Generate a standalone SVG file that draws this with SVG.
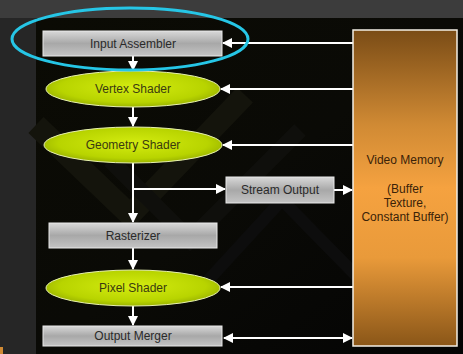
<svg xmlns="http://www.w3.org/2000/svg" width="463" height="354" viewBox="0 0 463 354">
  <defs>
    <linearGradient id="gray" x1="0" y1="0" x2="0" y2="1">
      <stop offset="0" stop-color="#d8d8d8"/>
      <stop offset="0.5" stop-color="#a8a8a8"/>
      <stop offset="1" stop-color="#c4c4c4"/>
    </linearGradient>
    <radialGradient id="lime" cx="0.5" cy="0.45" r="0.6">
      <stop offset="0" stop-color="#d4ec10"/>
      <stop offset="0.7" stop-color="#b8d400"/>
      <stop offset="1" stop-color="#90a800"/>
    </radialGradient>
    <linearGradient id="orange" x1="0" y1="0" x2="0" y2="1">
      <stop offset="0" stop-color="#7a4c16"/>
      <stop offset="0.3" stop-color="#d08a34"/>
      <stop offset="0.5" stop-color="#f5a240"/>
      <stop offset="0.72" stop-color="#e99a3a"/>
      <stop offset="1" stop-color="#8a5618"/>
    </linearGradient>
    <linearGradient id="bg" x1="0" y1="0" x2="1" y2="1">
      <stop offset="0" stop-color="#0b0b04"/>
      <stop offset="0.5" stop-color="#0a0a06"/>
      <stop offset="1" stop-color="#040404"/>
    </linearGradient>
    <marker id="head" viewBox="0 0 10 10" refX="9" refY="5" markerWidth="5" markerHeight="5" orient="auto-start-reverse">
      <path d="M0,0 L10,5 L0,10 z" fill="#ffffff"/>
    </marker>
  </defs>
  <style>
    .box { fill: url(#gray); stroke: #e8e8e8; stroke-width: 1; }
    .shader { fill: url(#lime); stroke: #e6efb0; stroke-width: 1; }
    .label { font-family: "Liberation Sans", Arial, sans-serif; font-size: 12px; text-anchor: middle; fill: #2a2a2a; }
    .slabel { font-family: "Liberation Sans", Arial, sans-serif; font-size: 12px; text-anchor: middle; fill: #3a3a10; }
    .vm { font-family: "Liberation Sans", Arial, sans-serif; font-size: 12px; text-anchor: middle; fill: #3a2208; }
    .link { stroke: #ffffff; stroke-width: 2; fill: none; marker-end: url(#head); }
  </style>

  <!-- slide background -->
  <rect x="0" y="0" width="463" height="354" fill="#262626"/>
  <rect x="0" y="0" width="463" height="18" fill="#3c3c3c"/>
  <rect x="36" y="18" width="427" height="336" fill="url(#bg)"/>
  <!-- faint chevron artwork behind the pipeline -->
  <g fill="none" stroke-linejoin="miter">
    <path d="M36,125 L130,215 L245,95" stroke="#14140c" stroke-width="22"/>
    <path d="M110,160 L190,240 L300,130" stroke="#0f0f0c" stroke-width="16"/>
    <path d="M190,300 L282,200 L380,300" stroke="#0d0d0d" stroke-width="12"/>
  </g>
  <rect x="0" y="347" width="3" height="7" fill="#d08a34"/>

  <!-- connectors -->
  <g id="connectors">
    <line class="link" x1="133" y1="56" x2="133" y2="70"/>
    <line class="link" x1="133" y1="107" x2="133" y2="126"/>
    <line class="link" x1="133" y1="163" x2="133" y2="222"/>
    <line class="link" x1="133" y1="189" x2="225" y2="189"/>
    <line class="link" x1="133" y1="248" x2="133" y2="269"/>
    <line class="link" x1="133" y1="306" x2="133" y2="325"/>
    <line class="link" x1="353" y1="43" x2="223" y2="43"/>
    <line class="link" x1="353" y1="89" x2="221" y2="89"/>
    <line class="link" x1="353" y1="145" x2="223" y2="145"/>
    <line class="link" x1="353" y1="287" x2="221" y2="287"/>
    <line class="link" x1="334" y1="190" x2="352" y2="190"/>
    <line class="link" x1="224" y1="338" x2="352" y2="338" marker-start="url(#head)"/>
  </g>

  <g id="input-assembler">
    <rect class="box" x="43" y="31" width="179" height="25"/>
    <text class="label" x="133" y="47.5">Input Assembler</text>
  </g>
  <g id="vertex-shader">
    <ellipse class="shader" cx="133" cy="89" rx="87" ry="18"/>
    <text class="slabel" x="133" y="93">Vertex Shader</text>
  </g>
  <g id="geometry-shader">
    <ellipse class="shader" cx="133" cy="145" rx="89" ry="18"/>
    <text class="slabel" x="133" y="149">Geometry Shader</text>
  </g>
  <g id="stream-output">
    <rect class="box" x="226" y="177" width="108" height="26"/>
    <text class="label" x="280" y="194">Stream Output</text>
  </g>
  <g id="rasterizer">
    <rect class="box" x="49" y="223" width="168" height="25"/>
    <text class="label" x="133" y="240">Rasterizer</text>
  </g>
  <g id="pixel-shader">
    <ellipse class="shader" cx="133" cy="288" rx="87" ry="18"/>
    <text class="slabel" x="133" y="292">Pixel Shader</text>
  </g>
  <g id="output-merger">
    <rect class="box" x="43" y="326" width="179" height="20"/>
    <text class="label" x="133" y="340">Output Merger</text>
  </g>
  <g id="video-memory">
    <rect x="353" y="30" width="104" height="316" fill="url(#orange)" stroke="#f4efe6" stroke-width="1.5"/>
    <text class="vm" x="405" y="164">Video Memory</text>
    <text class="vm" x="405" y="193">(Buffer</text>
    <text class="vm" x="405" y="207">Texture,</text>
    <text class="vm" x="405" y="221">Constant Buffer)</text>
  </g>

  <!-- highlight ring -->
  <g id="highlight">
    <ellipse cx="130" cy="39" rx="118" ry="31" fill="none" stroke="#26c6e6" stroke-width="3"/>
  </g>
</svg>
